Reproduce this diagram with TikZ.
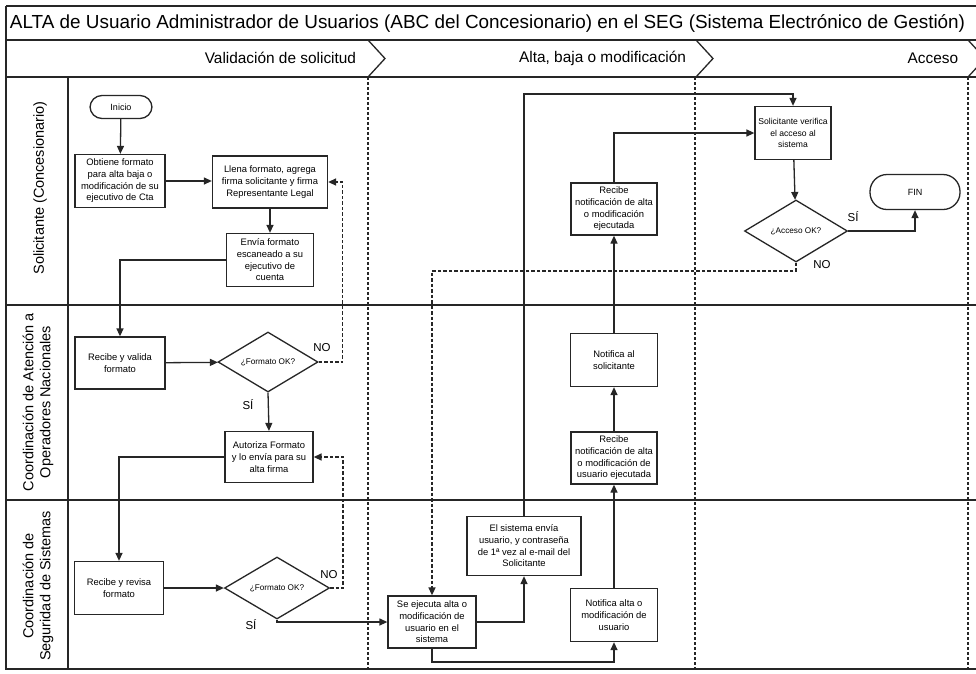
\documentclass[tikz,border=0pt]{standalone}
\usepackage{fontspec}
\setmainfont{Liberation Sans}
\usetikzlibrary{shapes.geometric,arrows.meta,calc}
\begin{document}
\begin{tikzpicture}[x=1pt,y=-1pt,
  line width=1.2pt,
  proc/.style={draw=black!85, line width=1.3pt, fill=white, align=center,
    font=\fontsize{9.4}{11.7}\selectfont, inner sep=1pt},
  term/.style={draw=black!85, line width=1.3pt, fill=white, rounded corners=12pt,
    font=\fontsize{9}{10}\selectfont, inner sep=1pt},
  decis/.style={draw=black!85, line width=1.3pt, fill=white, diamond, aspect=1.7,
    inner sep=0pt, font=\fontsize{8.2}{10}\selectfont},
  conn/.style={draw=black!85, line width=1.3pt, -{Triangle[length=8pt,width=7pt]}},
  dconn/.style={draw=black!85, line width=1.5pt, dash pattern=on 3.5pt off 2pt,
    -{Triangle[length=8pt,width=7pt]}},
  sep/.style={draw=black!85, line width=1.6pt, dash pattern=on 3pt off 2pt},
  lane/.style={draw=black!85, line width=1.3pt},
  lanelabel/.style={rotate=90, align=center, font=\fontsize{14.5}{17}\selectfont},
  phase/.style={anchor=east, font=\fontsize{15.4}{17}\selectfont},
  yn/.style={font=\fontsize{11.5}{12}\selectfont, inner sep=1pt}
]
\useasboundingbox (0,0) rectangle (976,673);
\fill[white] (0,0) rectangle (976,673);
\begin{scope}
\clip (0,0) rectangle (976,673);
% frame and lanes
\draw[lane] (6,6) -- (990,6);
\draw[lane] (6,6) -- (6,669) -- (990,669);
\draw[lane] (6,40) -- (990,40);
\draw[lane] (6,77) -- (990,77);
\draw[lane] (6,305) -- (990,305);
\draw[lane] (6,500) -- (990,500);
\draw[lane] (68,77) -- (68,669);
% chevrons
\draw[lane] (368,40) -- (385,58.5) -- (368,77);
\draw[lane] (696,40) -- (713,58.5) -- (696,77);
\draw[lane] (968,40) -- (985,58.5) -- (968,77);
% phase separators
\draw[sep] (368,77) -- (368,669);
\draw[sep] (695,77) -- (695,669);
\draw[sep] (968,77) -- (968,669);
\end{scope}

\node[anchor=west, font=\fontsize{18.9}{20}\selectfont] (title) at (6,23)
  {ALTA de Usuario Administrador de Usuarios (ABC del Concesionario) en el SEG (Sistema Electrónico de Gestión)};
\node[phase] (ph1) at (360,58) {Validación de solicitud};
\node[phase] (ph2) at (690,58) {Alta, baja o modificación};
\node[phase] (ph3) at (962,58) {Acceso};

\node[lanelabel] (l1) at (40,188) {Solicitante (Concesionario)};
\node[lanelabel] (l2) at (38,402) {Coordinación de Atención a\\Operadores Nacionales};
\node[lanelabel] (l3) at (38,586) {Coordinación de\\Seguridad de Sistemas};

% nodes
\node[term, minimum width=62pt, minimum height=23pt] (inicio) at (121,107) {Inicio};
\node[proc, minimum width=90pt, minimum height=53pt] (obtiene) at (120,181)
  {Obtiene formato\\para alta baja o\\modificación de su\\ejecutivo de Cta};
\node[proc, minimum width=115pt, minimum height=52pt] (llena) at (270,182)
  {Llena formato, agrega\\firma solicitante y firma\\Representante Legal};
\node[proc, minimum width=87pt, minimum height=53pt] (envia) at (270,260)
  {Envía formato\\escaneado a su\\ejecutivo de\\cuenta};
\node[proc, minimum width=90pt, minimum height=52pt] (recval) at (120,363)
  {Recibe y valida\\formato};
\node[decis, minimum width=100pt, minimum height=60pt] (dec1) at (268,362) {¿Formato OK?};
\node[proc, minimum width=88pt, minimum height=51pt] (autoriza) at (269,457)
  {Autoriza Formato\\y lo envía para su\\alta firma};
\node[proc, minimum width=89pt, minimum height=53pt] (recrev) at (119,588)
  {Recibe y revisa\\formato};
\node[decis, minimum width=105pt, minimum height=62pt] (dec2) at (277,588) {¿Formato OK?};
\node[proc, minimum width=88pt, minimum height=52pt] (ejecuta) at (432,622)
  {Se ejecuta alta o\\modificación de\\usuario en el\\sistema};
\node[proc, minimum width=114pt, minimum height=59pt] (sisenvia) at (524,546)
  {El sistema envía\\usuario, y contraseña\\de 1ª vez al e-mail del\\Solicitante};
\node[proc, minimum width=87pt, minimum height=53pt] (notalta) at (614,615)
  {Notifica alta o\\modificación de\\usuario};
\node[proc, minimum width=86pt, minimum height=52pt] (recnot2) at (614,458)
  {Recibe\\notificación de alta\\o modificación de\\usuario ejecutada};
\node[proc, minimum width=87pt, minimum height=53pt] (notsol) at (614,360)
  {Notifica al\\solicitante};
\node[proc, minimum width=86pt, minimum height=52pt] (recnot1) at (614,209)
  {Recibe\\notificación de alta\\o modificación\\ejecutada};
\node[proc, minimum width=76pt, minimum height=53pt, font=\fontsize{8.6}{11.7}\selectfont] (verifica) at (793,133)
  {Solicitante verifica\\el acceso al\\sistema};
\node[decis, minimum width=103pt, minimum height=62pt] (dec3) at (796,231) {¿Acceso OK?};
\node[term, minimum width=90pt, minimum height=35pt, rounded corners=17pt] (fin) at (915,192) {FIN};

\coordinate (topline) at (0,94);
\coordinate (botline) at (0,662);
\coordinate (noline) at (0,271);

% connectors
\draw[conn] (inicio) -- (obtiene);
\draw[conn] (obtiene.east) -- (llena.west |- obtiene.east);
\draw[conn] (llena) -- (envia);
\draw[conn] (envia.west) -| (recval.north);
\draw[conn] (recval) -- (dec1);
\draw[dconn] (dec1.east) -- ++(24,0) |- (llena.east);
\draw[conn] (dec1.south) -- (autoriza.north);
\draw[conn] (autoriza.west) -| (recrev.north);
\draw[conn] (recrev) -- (dec2);
\draw[dconn] (dec2.east) -- ++(13,0) |- (autoriza.east);
\draw[conn] (dec2.south) |- (ejecuta.west);
\draw[conn] (ejecuta.east) -| (sisenvia.south);
\draw[conn] (sisenvia.north) -- (sisenvia.north |- topline) -| (verifica.north);
\draw[conn] (ejecuta.south) -- (ejecuta.south |- botline) -| (notalta.south);
\draw[conn] (notalta) -- (recnot2);
\draw[conn] (recnot2) -- (notsol);
\draw[conn] (notsol) -- (recnot1);
\draw[conn] (recnot1.north) |- (verifica.west);
\draw[conn] (verifica) -- (dec3);
\draw[conn] (dec3.east) -| (fin.south);
\draw[dconn] (dec3.south) -- (dec3.south |- noline) -| (ejecuta.north);

% labels
\node[yn] (no1) at (322,348) {NO};
\node[yn] (si1) at (248,405) {SÍ};
\node[yn] (no2) at (329,575) {NO};
\node[yn] (si2) at (251,625) {SÍ};
\node[yn] (si3) at (853,217) {SÍ};
\node[yn] (no3) at (822,265) {NO};
\end{tikzpicture}
\end{document}
